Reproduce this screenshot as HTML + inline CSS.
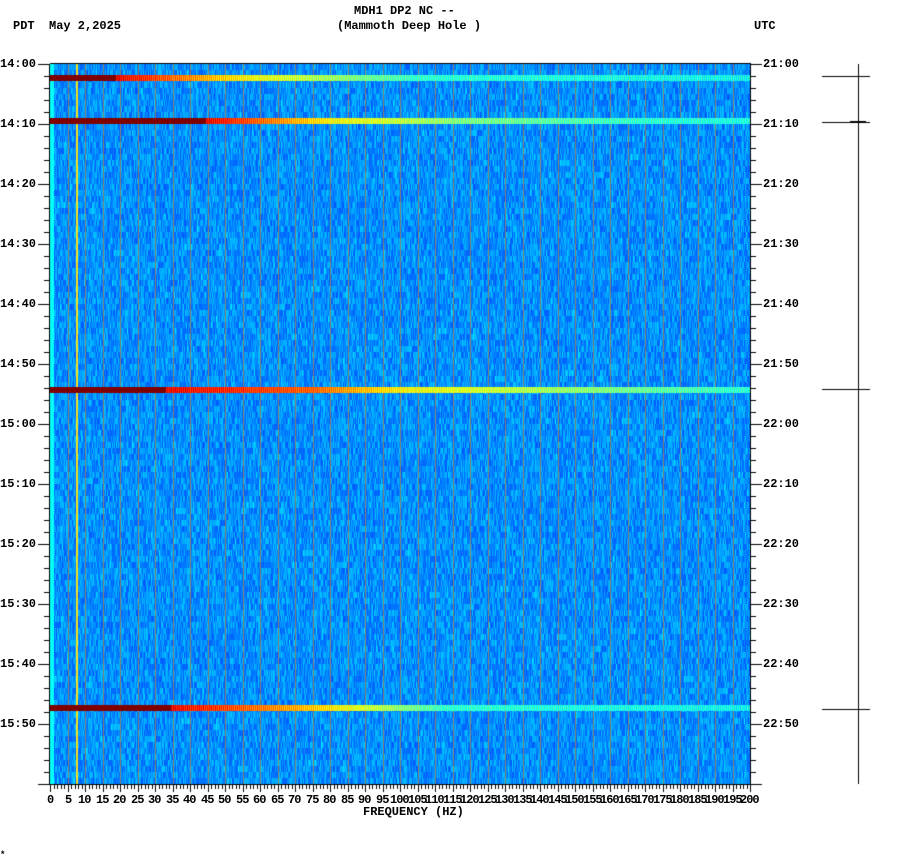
<!DOCTYPE html>
<html><head><style>
body{margin:0;background:#fff;width:902px;height:864px;position:relative;overflow:hidden;font-family:"Liberation Mono",monospace;font-weight:bold;font-size:12px;color:#000}
.t{position:absolute;white-space:pre;line-height:12px}
canvas{position:absolute;left:0;top:0}
</style></head><body>
<canvas id="c" width="902" height="864"></canvas>
<div class="t" style="left:354px;top:5px">MDH1 DP2 NC --</div>
<div class="t" style="left:337px;top:20px">(Mammoth Deep Hole )</div>
<div class="t" style="left:13px;top:20px">PDT</div>
<div class="t" style="left:49px;top:20px">May 2,2025</div>
<div class="t" style="left:754px;top:20px">UTC</div>
<div class="t" style="left:363px;top:806px">FREQUENCY (HZ)</div>
<div class="t" style="left:0px;top:849px;font-size:9px">*</div>
<div id="lab"></div>
<script>
const c=document.getElementById('c').getContext('2d');
const X0=50,X1=750,Y0=64,Y1=784;
let s=12345;function r(){s=(s*1103515245+12345)&0x7fffffff;return s/0x7fffffff;}
function jet(v){v=Math.max(0,Math.min(1,v));
 const f=(a)=>Math.round(255*Math.max(0,Math.min(1,1.5-Math.abs(4*v-a))));
 return `rgb(${f(3)},${f(2)},${f(1)})`;}
// background noise: 1px columns, 6px rows
for(let y=Y0;y<Y1;y+=6){for(let x=X0;x<X1;x++){
 let v=0.21+0.11*r()+0.04*(r()<0.08?r():0);
 if(x<54)v=0.38;
 c.fillStyle=jet(v);c.fillRect(x,y,1,6);}}
// grid lines
c.fillStyle='#858070';
for(let f=5;f<200;f+=5){c.fillRect(Math.round(X0+f*3.5),Y0,1,720);}
c.fillStyle='#f0e020';c.fillRect(76,Y0,2,720);
// bands
function band(y,pts){for(let x=X0;x<X1;x++){
 let v=pts[pts.length-1][1];
 for(let i=0;i<pts.length-1;i++){if(x>=pts[i][0]&&x<pts[i+1][0]){const t=(x-pts[i][0])/(pts[i+1][0]-pts[i][0]);v=pts[i][1]+t*(pts[i+1][1]-pts[i][1]);break;}}
 if(v<0.98)v+=(x%2?0.04:-0.04)+0.03*(r()-0.5);else v=1.0;
 c.fillStyle=v>=0.99?'#800000':jet(v);c.fillRect(x,y,1,6);}}
band(75,[[50,1],[115,1],[116,0.88],[250,0.62],[420,0.42],[750,0.38]]);
band(118,[[50,1],[205,1],[206,0.88],[330,0.63],[460,0.5],[650,0.42],[750,0.4]]);
band(387,[[50,1],[165,1],[166,0.88],[310,0.78],[400,0.63],[600,0.5],[750,0.42]]);
band(705,[[50,1],[170,1],[171,0.88],[300,0.7],[450,0.42],[750,0.38]]);
c.fillStyle='#000';
c.fillRect(X0-1,Y0,1,721);c.fillRect(X1,Y0,1,721);c.fillRect(X0,Y1,701,1);c.fillRect(X0,Y0-1,701,1);
let lab='';
for(let m=0;m<=120;m+=2){const y=Y0+m*6;const maj=m%10==0;
 c.fillRect(maj?38:44,y,maj?12:6,1);c.fillRect(X1,y,maj?12:6,1);
 if(maj&&m<120){const h=14+Math.floor(m/60),mm=m%60;
 lab+=`<div class="t" style="left:0;top:${y-6}px">${h}:${String(mm).padStart(2,'0')}</div>`;
 lab+=`<div class="t" style="left:763px;top:${y-6}px">${h+7}:${String(mm).padStart(2,'0')}</div>`;}}
for(let f=0;f<=200;f++){const x=Math.round(X0+f*3.5);const maj=f%5==0;c.fillRect(x,Y1,1,maj?8:5);
 if(maj)lab+=`<div class="t" style="left:${x-(f<10?3:f<100?7:10)}px;top:794px;letter-spacing:-1px">${f}</div>`;}
document.getElementById('lab').innerHTML=lab;
c.fillRect(858,64,1,720);
for(const y of [76,122,389,709])c.fillRect(822,y,48,1);
c.fillRect(850,121,16,2);
</script>
</body></html>
